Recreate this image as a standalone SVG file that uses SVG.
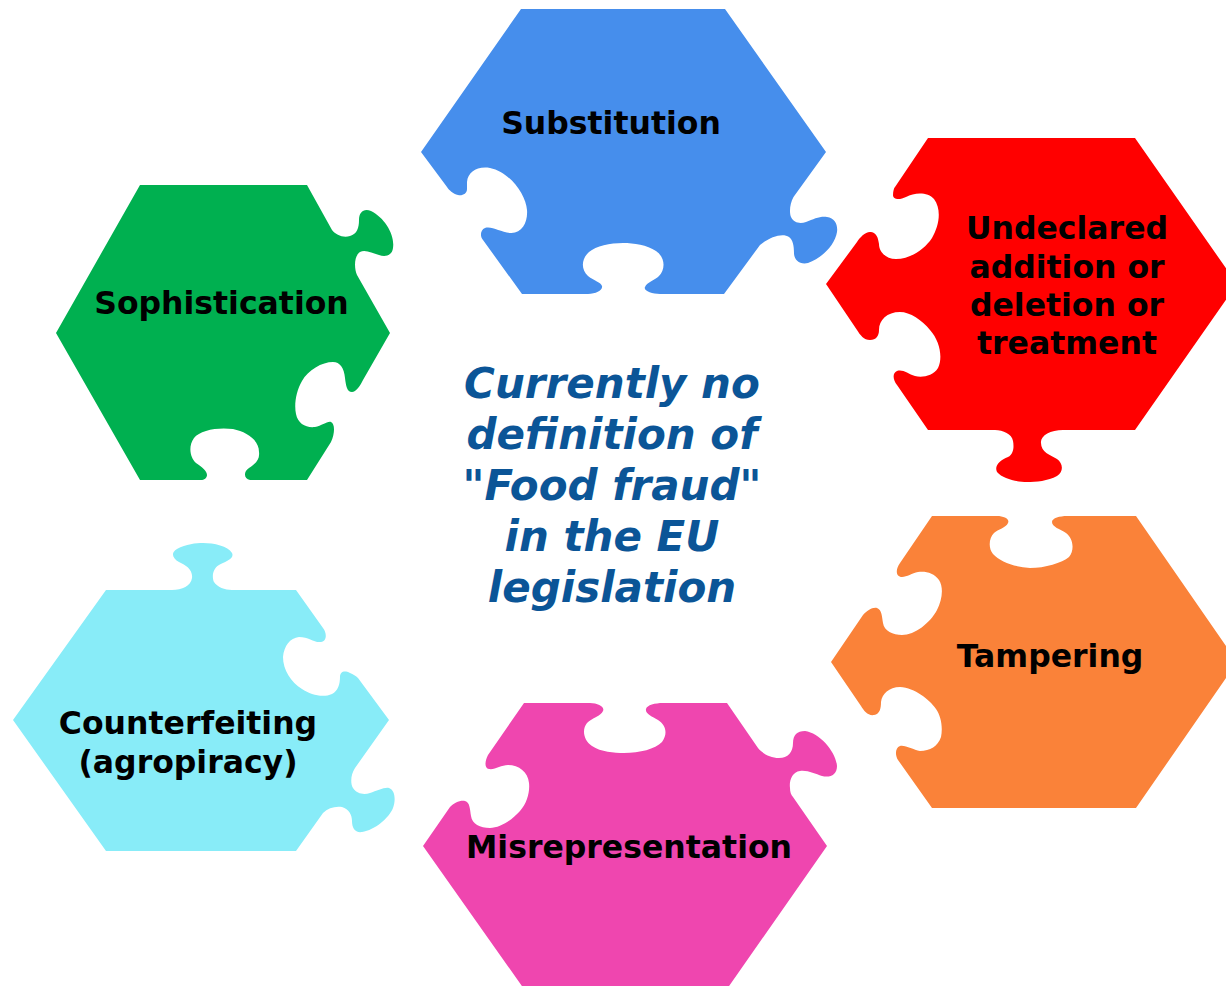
<svg xmlns="http://www.w3.org/2000/svg" width="1226" height="986" viewBox="0 0 1226 986">
<style>
.lbl{font-family:"DejaVu Sans","Verdana",sans-serif;font-weight:bold;font-size:31.5px;fill:#000;text-anchor:middle}
.ctr{font-family:"DejaVu Sans","Verdana",sans-serif;font-weight:bold;font-style:italic;font-size:42px;fill:#0B5597;text-anchor:middle}
</style>
<rect width="1226" height="986" fill="#fff"/>
<g id="substitution">
<path fill="#468EEC" d="M521,9 L725,9 L826,152 L793.5,197 C790,203 789,212 791,217 C794,223 800,224 806,222 C814,219 820,216 827,217 C835,218 838,225 837,232 C835,245 822,258 808,263 C800,265 794,260 794,253 C794,246 793,240 789,237 C783,233 771,236 760,245 L724,294 L660,294 C652,294 643,291 645,287 C647,282 655,280 659,276 C665,270 666,258 656,251 C647,245 634,243 623,243 C610,243 596,246 589,252 C581,259 581,270 588,276 C594,281 601,282 602,286 C603,290 596,294 588,294 L522,294 L483,240 C480,237 480,230 485,228 C492,226 500,232 510,233 C522,234 528,222 527,210 C526,195 510,172 490,168 C477,166 468,172 467,182 L467,189 C467,194 462,196 458,195 C453,194 449,190 447,187 L421,152 Z"/>
<text class="lbl" x="611" y="134">Substitution</text>
</g>
<g id="undeclared">
<path fill="#FF0000" d="M928,138 L1135,138 L1237,284 L1135,430 L1063,430 C1050,430 1040,436 1041,443 C1041,452 1050,455 1057,459 C1063,463 1064,472 1057,476 C1048,481 1036,482 1027,482 C1017,482 1003,479 997,472 C994,466 1000,460 1008,457 C1014,454 1014,446 1013,441 C1012,434 1003,430 995,430 L928,430 L897,385 C893,380 892,373 897,371 C903,369 908,374 915,376 C922,378 933,376 938,368 C943,358 940,341 930,330 C922,320 910,312 900,312 C887,312 879,320 879,330 C879,336 876,340 870,340 C864,340 860,335 857,330 L826,284 L857,242 C860,237 866,231 871,232 C877,233 878,238 879,244 C879,252 886,259 896,259 C910,259 924,250 932,238 C939,226 942,210 934,199 C928,192 915,192 906,197 C900,200 893,200 893,195 C893,191 894,188 895,187 Z"/>
<text class="lbl" x="1067" y="239">Undeclared</text>
<text class="lbl" x="1067" y="278">addition or</text>
<text class="lbl" x="1067" y="316">deletion or</text>
<text class="lbl" x="1067" y="354">treatment</text>
</g>
<g id="sophistication">
<path fill="#00B050" d="M140,185 L307,185 L332,230 C336,235 343,238 350,236 C357,234 359,228 359,220 C359,212 364,208 371,211 C385,218 395,235 393,248 C392,256 385,257 379,255 C372,253 365,249 360,252 C354,256 354,268 357,275 L390,333 L363,380 C360,386 356,392 352,392 C347,392 346,386 345,378 C344,368 340,362 333,362 C322,362 308,370 302,381 C296,391 294,405 296,414 C298,424 306,428 315,427 C322,426 327,421 331,422 C335,424 335,433 331,442 L307,480 L250,480 C244,479 243,472 249,468 C255,464 260,460 259,452 C259,440 247,432 233,429 C218,427 200,430 194,438 C188,446 190,458 196,463 C202,467 207,471 207,475 C207,478 204,480 201,480 L140,480 L56,333 Z"/>
<text class="lbl" x="221.5" y="314">Sophistication</text>
</g>
<g id="counterfeiting">
<path fill="#88ECF8" d="M106,590 L172,590 C182,590 191,586 192,578 C193,570 186,565 179,562 C173,559 170,553 177,549 C186,544 196,543 203,543 C214,543 228,546 232,553 C235,559 224,562 219,565 C212,569 212,578 214,582 C217,587 225,590 232,590 L296,590 L323,628 C327,633 327,641 321,642 C314,643 309,637 299,637 C290,638 284,646 283,657 C283,670 291,682 302,689 C311,695 323,698 332,694 C338,691 340,684 340,677 C340,672 344,670 350,673 C353,674 356,676 358,678 L389,720 L355,768 C351,774 350,783 353,788 C357,794 364,795 370,793 C377,791 384,787 389,788 C395,790 396,800 393,808 C389,818 375,830 362,832 C355,833 352,828 352,821 C352,815 349,809 342,807 C335,806 328,808 323,813 L296,851 L106,851 L13,720 Z"/>
<text class="lbl" x="188" y="734">Counterfeiting</text>
<text class="lbl" x="188" y="773">(agropiracy)</text>
</g>
<g id="misrepresentation">
<path fill="#EF46AF" d="M524,703 L590,703 C598,703 605,707 603,711 C601,716 592,718 587,723 C582,729 583,740 592,746 C601,752 614,753 624,753 C640,753 655,749 662,742 C668,734 666,725 658,720 C652,716 645,714 646,709 C647,705 655,703 663,703 L727,703 L758,748 C762,753 770,758 779,758 C788,758 793,752 793,743 C793,735 797,731 805,731 C820,733 836,752 837,766 C837,775 830,778 822,776 C815,774 808,770 800,771 C792,772 789,781 790,788 C790,792 791,795 793,797 L827,846 L727,989 L524,989 L423,846 L450,807 C454,803 460,800 465,801 C470,802 470,810 471,816 C472,824 480,828 490,828 C500,828 512,820 520,811 C527,803 530,792 529,783 C528,772 519,765 508,765 C501,765 495,770 489,769 C484,768 485,761 488,755 Z"/>
<text class="lbl" x="629" y="858">Misrepresentation</text>
</g>
<g id="tampering">
<path fill="#FA8239" d="M932,516 L997,516 C1004,516 1010,519 1008,523 C1006,528 998,529 994,533 C989,538 988,548 993,554 C1000,562 1015,567 1030,568 C1045,568 1062,563 1069,557 C1075,550 1073,538 1066,533 C1060,529 1052,527 1052,522 C1052,518 1060,516 1067,516 L1136,516 L1237,662 L1136,808 L932,808 L898,760 C895,755 895,748 900,746 C906,745 913,750 920,751 C930,751 938,746 941,737 C943,727 941,716 936,709 C929,699 915,688 900,687 C889,687 882,694 881,702 C881,708 880,714 874,715 C868,716 864,711 861,706 L831,662 L863,615 C867,611 872,607 877,608 C882,610 882,617 883,623 C884,631 893,635 902,635 C915,635 930,623 937,610 C942,600 944,588 939,580 C934,573 926,571 918,572 C912,573 907,577 902,577 C896,577 895,570 900,563 Z"/>
<text class="lbl" x="1050" y="667">Tampering</text>
</g>
<g id="center">
<text class="ctr" x="612" y="398">Currently no</text>
<text class="ctr" x="612" y="449">definition of</text>
<text class="ctr" x="612" y="500">"Food fraud"</text>
<text class="ctr" x="612" y="551">in the EU</text>
<text class="ctr" x="612" y="602">legislation</text>
</g>
<g id="connectors"/>
</svg>
